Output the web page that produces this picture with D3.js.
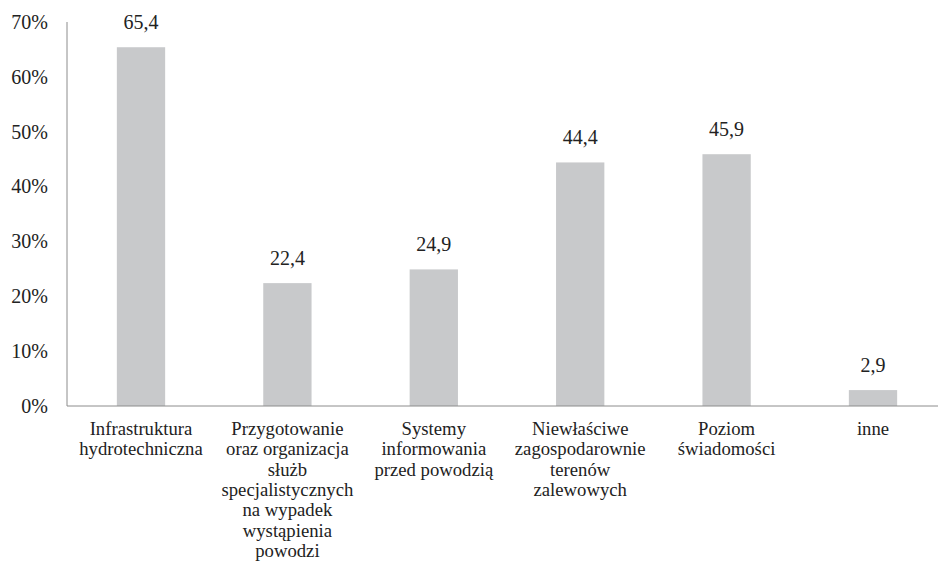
<!DOCTYPE html>
<html>
<head>
<meta charset="utf-8">
<script src="https://cdn.jsdelivr.net/npm/d3@7"></script>
<style>
  html, body { margin: 0; padding: 0; background: #fff; }
  svg { display: block; }
  svg text { font-family: "Liberation Serif", "Times New Roman", Tinos, serif !important; }
</style>
</head>
<body>
<svg id="chart" width="939" height="566"></svg>
<script>
// Categories (each entry is the label split into its lines)
const categories = [
  ["Infrastruktura", "hydrotechniczna"],
  ["Przygotowanie", "oraz organizacja", "służb", "specjalistycznych", "na wypadek", "wystąpienia", "powodzi"],
  ["Systemy", "informowania", "przed powodzią"],
  ["Niewłaściwe", "zagospodarownie", "terenów", "zalewowych"],
  ["Poziom", "świadomości"],
  ["inne"]
];
const values = [65.4, 22.4, 24.9, 44.4, 45.9, 2.9];
const yTicks = [0, 10, 20, 30, 40, 50, 60, 70];

const svg = d3.select("#chart");
const plot = { left: 67, right: 938, top: 22, bottom: 406 };

const x = d3.scaleBand()
  .domain(d3.range(values.length))
  .range([67.8, 946.2])
  .paddingInner(0.67)
  .paddingOuter(0.335);

const y = d3.scaleLinear().domain([0, 70]).range([plot.bottom, plot.top]);

// Bars
svg.append("g")
  .selectAll("rect")
  .data(values)
  .join("rect")
  .attr("x", (d, i) => x(i))
  .attr("y", d => y(d))
  .attr("width", x.bandwidth())
  .attr("height", d => y(0) - y(d))
  .attr("fill", "#c8c9cb");

// Y axis: percentage labels, no tick marks
const yAxis = d3.axisLeft(y)
  .tickValues(yTicks)
  .tickSize(0)
  .tickPadding(19)
  .tickFormat(d => d + "%");
const gy = svg.append("g")
  .attr("transform", `translate(${plot.left},0)`)
  .call(yAxis)
  .attr("font-family", null)
  .attr("font-size", null);
gy.select(".domain").remove();
gy.selectAll("text")
  .style("font-size", "20px")
  .attr("fill", "#222");

// Axis lines
svg.append("line")
  .attr("x1", plot.left).attr("x2", plot.left)
  .attr("y1", plot.top).attr("y2", plot.bottom)
  .attr("stroke", "#8c8c8c").attr("stroke-width", 1);

svg.append("line")
  .attr("x1", plot.left).attr("x2", plot.right)
  .attr("y1", plot.bottom).attr("y2", plot.bottom)
  .attr("stroke", "#8c8c8c").attr("stroke-width", 1);

// Value labels above bars
svg.append("g")
  .selectAll("text")
  .data(values)
  .join("text")
  .attr("x", (d, i) => x(i) + x.bandwidth() / 2)
  .attr("y", d => y(d) - 18)
  .attr("text-anchor", "middle")
  .style("font-size", "20px")
  .attr("fill", "#222")
  .text(d => d.toFixed(1).replace(".", ","));

// Category labels, multi-line
const cat = svg.append("g")
  .selectAll("text")
  .data(categories)
  .join("text")
  .attr("x", (d, i) => x(i) + x.bandwidth() / 2)
  .attr("y", 435)
  .attr("text-anchor", "middle")
  .style("font-size", "18.7px")
  .attr("fill", "#222");
cat.each(function(lines, i) {
  const t = d3.select(this);
  lines.forEach((ln, k) => {
    t.append("tspan")
      .attr("x", x(i) + x.bandwidth() / 2)
      .attr("dy", k === 0 ? 0 : 20.3)
      .text(ln);
  });
});
</script>
</body>
</html>
